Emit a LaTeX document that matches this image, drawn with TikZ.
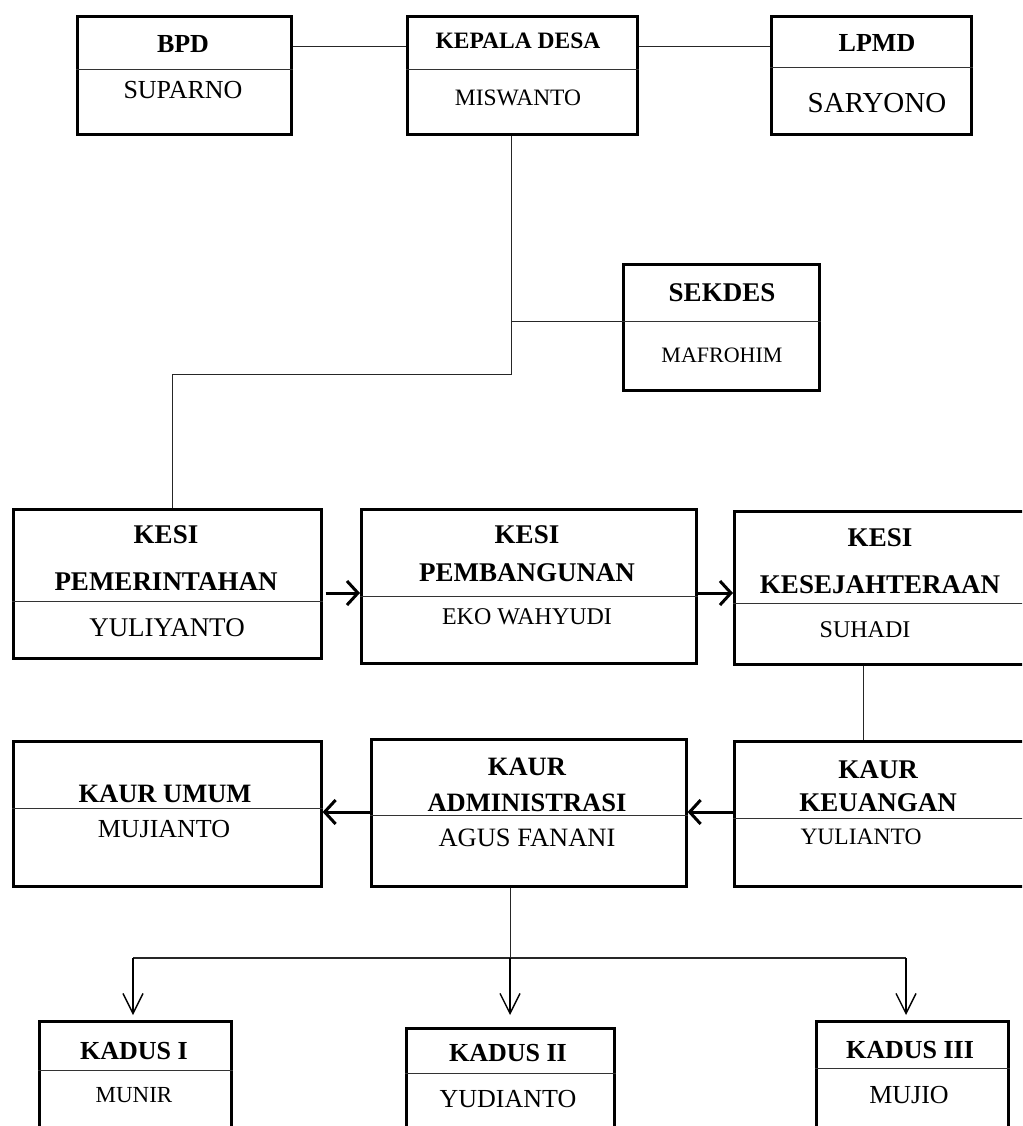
\documentclass[tikz,border=0pt]{standalone}
\usepackage{fontspec}
\setmainfont{Liberation Serif}
\usetikzlibrary{arrows.meta}
\tikzset{
  orgbox/.style={draw, line width=2.6pt, inner sep=0pt, anchor=north west},
  divline/.style={line width=1pt, black!80},
  conn/.style={line width=1pt, black!85},
  thickarrow/.style={line width=3pt, -{Straight Barb[length=11pt,width=24pt,line width=3pt]}},
  downarrow/.style={line width=1.4pt, -{Straight Barb[length=20pt,width=20pt,line width=1.4pt]}},
  ttl/.style={font=\bfseries\fontsize{#1}{#1}\selectfont, inner sep=0pt, anchor=center},
  nm/.style={font=\fontsize{#1}{#1}\selectfont, inner sep=0pt, anchor=center}
}
\newcommand{\orgrect}[6]{%
  \node[orgbox, minimum width={#4-#2}, minimum height={#5-#3}] (#1) at (#2,#3) {};
  \draw[divline] (#1.west |- 0,#6) -- (#1.east |- 0,#6);
}
\begin{document}
\begin{tikzpicture}[x=1pt,y=-1pt]
\useasboundingbox (0,0) rectangle (1022,1126);
\clip (0,0) rectangle (1022,1126);
% top row
\orgrect{bpd}{76}{15}{290}{133}{70}
\node[ttl=26] (bpdt) at (183,44) {BPD};
\node[nm=26] (bpdn) at (183,90) {SUPARNO};
\orgrect{kd}{406}{15}{636}{133}{70}
\node[ttl=23.5] (kdt) at (518,41) {KEPALA DESA};
\node[nm=23.5] (kdn) at (518,98) {MISWANTO};
\orgrect{lpmd}{770}{15}{970}{133}{68}
\node[ttl=26] (lpt) at (877,43) {LPMD};
\node[nm=29] (lpn) at (877,103) {SARYONO};
% sekdes
\orgrect{sek}{622}{263}{818}{389}{321}
\node[ttl=27] (sekt) at (722,293) {SEKDES};
\node[nm=22] (sekn) at (722,355) {MAFROHIM};
% kesi row
\orgrect{kp}{12}{508}{320}{657}{601}
\node[ttl=27] (kpt1) at (166,535) {KESI};
\node[ttl=27] (kpt2) at (166,582) {PEMERINTAHAN};
\node[nm=27] (kpn) at (167,628) {YULIYANTO};
\orgrect{kb}{360}{508}{695}{662}{596}
\node[ttl=27] (kbt1) at (527,535) {KESI};
\node[ttl=27] (kbt2) at (527,573) {PEMBANGUNAN};
\node[nm=24] (kbn) at (527,617) {EKO WAHYUDI};
\orgrect{ks}{733}{510}{1040}{663}{603}
\node[ttl=27] (kst1) at (880,538) {KESI};
\node[ttl=27] (kst2) at (880,585) {KESEJAHTERAAN};
\node[nm=24] (ksn) at (865,630) {SUHADI};
% kaur row
\orgrect{ku}{12}{740}{320}{885}{808}
\node[ttl=26.5] (kut) at (165,794) {KAUR UMUM};
\node[nm=26] (kun) at (164,829) {MUJIANTO};
\orgrect{ka}{370}{738}{685}{885}{815}
\node[ttl=26.5] (kat1) at (527,767) {KAUR};
\node[ttl=26.5] (kat2) at (527,803) {ADMINISTRASI};
\node[nm=26.5] (kan) at (527,838) {AGUS FANANI};
\orgrect{kk}{733}{740}{1040}{885}{818}
\node[ttl=27] (kkt1) at (878,770) {KAUR};
\node[ttl=27] (kkt2) at (878,803) {KEUANGAN};
\node[nm=23.5] (kkn) at (861,837) {YULIANTO};
% kadus row
\orgrect{k1}{38}{1020}{230}{1160}{1070}
\node[ttl=26] (k1t) at (134,1051) {KADUS I};
\node[nm=23] (k1n) at (134,1095) {MUNIR};
\orgrect{k2}{405}{1027}{613}{1160}{1073}
\node[ttl=26] (k2t) at (508,1053) {KADUS II};
\node[nm=26] (k2n) at (508,1099) {YUDIANTO};
\orgrect{k3}{815}{1020}{1007}{1160}{1068}
\node[ttl=26] (k3t) at (910,1050) {KADUS III};
\node[nm=26] (k3n) at (909,1095) {MUJIO};
% connectors
\coordinate (j1) at (511,321);
\coordinate (j2) at (511,374);
\coordinate (j3) at (172,374);
\draw[conn] (bpd.east |- 0,47) -- (kd.west |- 0,47);
\draw[conn] (kd.east |- 0,47) -- (lpmd.west |- 0,47);
\draw[conn] (kd.south -| j1) -- (j2) -- (j3) -- (kp.north -| j3);
\draw[conn] (j1) -- (sek.west |- j1);
\draw[conn] (ks.south -| 863,0) -- (kk.north -| 863,0);
\draw[thickarrow] ([xshift=3pt]kp.east |- 0,593) -- (kb.west |- 0,593);
\draw[thickarrow] (kb.east |- 0,593) -- (ks.west |- 0,593);
\draw[thickarrow] (kk.west |- 0,812) -- (ka.east |- 0,812);
\draw[thickarrow] (ka.west |- 0,812) -- (ku.east |- 0,812);
\coordinate (b0) at (510,958);
\coordinate (b1) at (133,958);
\coordinate (b3) at (906,958);
\draw[conn] (ka.south -| b0) -- (b0);
\draw[conn, line width=1.4pt] (b1) -- (b3);
\draw[downarrow] (b1) -- (133,1015) coordinate (a1);
\draw[downarrow] (b0) -- (510,1015) coordinate (a2);
\draw[downarrow] (b3) -- (906,1015) coordinate (a3);
\end{tikzpicture}
\end{document}
